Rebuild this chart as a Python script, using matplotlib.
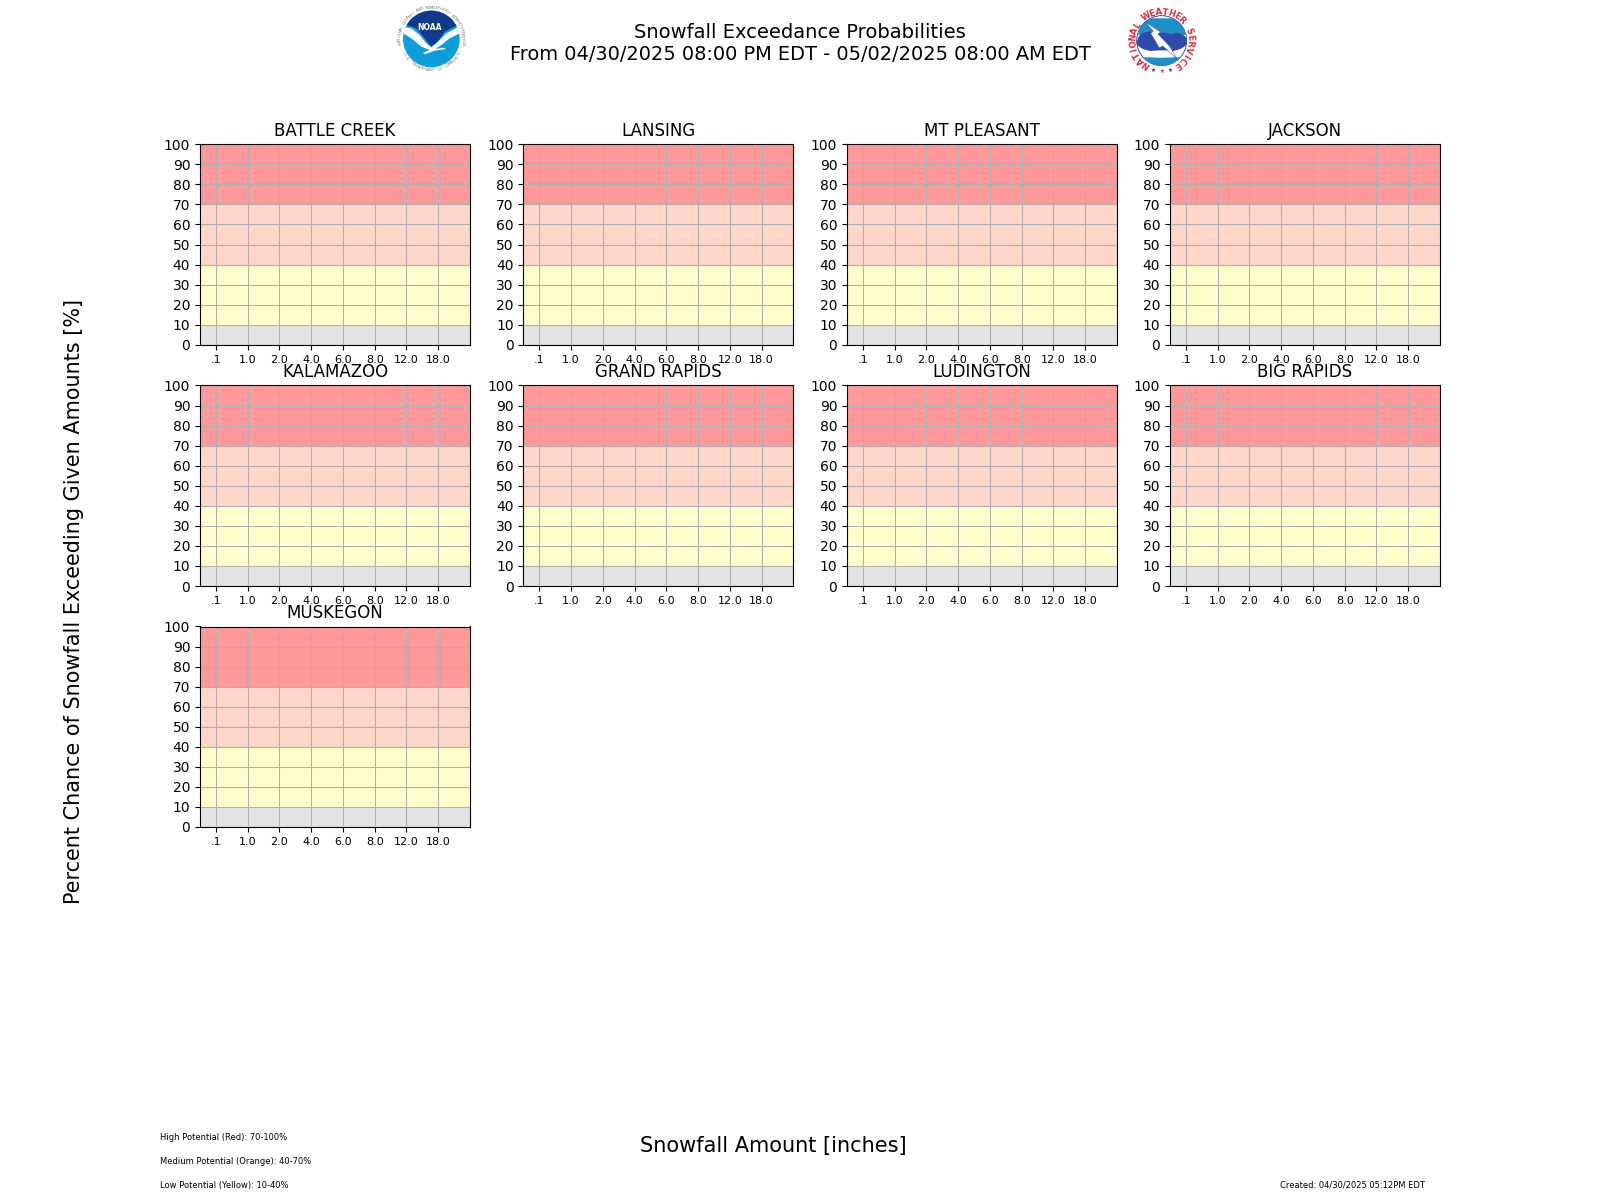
import numpy as np
import matplotlib
matplotlib.use("Agg")
import matplotlib.pyplot as plt
from matplotlib.patches import Circle, Ellipse, Polygon

stations = ["BATTLE CREEK", "LANSING", "MT PLEASANT", "JACKSON",
            "KALAMAZOO", "GRAND RAPIDS", "LUDINGTON", "BIG RAPIDS",
            "MUSKEGON"]
amount_labels = [".1", "1.0", "2.0", "4.0", "6.0", "8.0", "12.0", "18.0"]
percent_ticks = [0, 10, 20, 30, 40, 50, 60, 70, 80, 90, 100]
band_edges = [0, 10, 40, 70, 100]
band_colors = ["#e3e3e3", "#ffffcc", "#ffd6c9", "#ff9999"]
potential_notes = ["High Potential (Red): 70-100%",
                   "Medium Potential (Orange): 40-70%",
                   "Low Potential (Yellow): 10-40%"]

W, H = 1600, 1200
col_left = [200, 523.4, 847, 1170]
row_top = [144.3, 385.5, 626.5]
ax_w, ax_h = 270, 200.5


def px_axes(fig, left, top, width, height):
    return fig.add_axes([left / W, 1 - (top + height) / H, width / W, height / H])


def logo_axes(fig, left):
    # drawn in 3x pixel units, y pointing down
    ax = px_axes(fig, left, 0, 90, 85)
    ax.set_xlim(0, 270)
    ax.set_ylim(255, 0)
    ax.axis("off")
    return ax


def ring_text(ax, text, cx, cy, r, start, stop, tops_out=True, **kw):
    angles = np.linspace(start, stop, len(text))
    for ch, ang in zip(text, angles):
        if ch == " ":
            continue
        rad = np.deg2rad(ang)
        ax.text(cx + r * np.cos(rad), cy - r * np.sin(rad), ch, ha="center", va="center",
                rotation=ang - 90 if tops_out else ang + 90, **kw)


def draw_noaa(fig):
    ax = logo_axes(fig, 388)
    cx, cy = 130, 117
    disc = Circle((cx, cy), 85, fc="#0d9ddb", ec="none")
    ax.add_patch(disc)
    dark = Polygon([(40, 20), (220, 20), (220, 70), (170, 95), (150, 125), (130, 140),
                    (110, 115), (85, 85), (40, 70)], fc="#123a8c", ec="none")
    ax.add_patch(dark)
    dark.set_clip_path(disc)
    swoosh = Polygon([(40, 80), (70, 85), (95, 105), (115, 130), (130, 142), (150, 125),
                      (175, 100), (220, 76), (215, 100), (185, 115), (160, 135), (142, 147),
                      (165, 143), (175, 147), (140, 152), (110, 163), (105, 158), (125, 150),
                      (100, 140), (70, 115), (45, 100)], fc="white", ec="none")
    ax.add_patch(swoosh)
    swoosh.set_clip_path(disc)
    ax.text(125, 83, "NOAA", color="white", fontsize=5.5, fontweight="bold", ha="center", va="center")
    ring_text(ax, "NATIONAL OCEANIC AND ATMOSPHERIC ADMINISTRATION", cx, cy, 94, 188, -8,
              color="#777777", fontsize=2.8)
    ring_text(ax, "U.S. DEPARTMENT OF COMMERCE", cx, cy, 94, 208, 332, tops_out=False,
              color="#777777", fontsize=2.8)


def draw_nws(fig):
    ax = logo_axes(fig, 1120)
    cx, cy = 125, 122
    disc = Circle((cx, cy), 75, fc="white", ec="#1c3f94", lw=0.6)
    ax.add_patch(disc)
    parts = [Polygon([(60, 55), (190, 55), (200, 105), (55, 105)], fc="#1e8fc4", ec="none"),
             Polygon([(60, 172), (190, 172), (170, 200), (80, 200)], fc="#1e8fc4", ec="none"),
             Ellipse((125, 128), 150, 56, fc="#2f4aa8", ec="none"),
             Ellipse((88, 120), 70, 50, fc="#2f4aa8", ec="none"),
             Ellipse((170, 122), 60, 45, fc="#2f4aa8", ec="none"),
             Ellipse((125, 118), 60, 40, fc="#2f4aa8", ec="none"),
             Ellipse((125, 162), 110, 22, fc="white", ec="none"),
             Polygon([(76, 66), (122, 96), (114, 102), (150, 140), (170, 175), (128, 138),
                      (118, 144), (92, 100), (100, 94)], fc="white", ec="#1c3f94", lw=0.3)]
    for part in parts:
        ax.add_patch(part)
        part.set_clip_path(disc)
    ring_text(ax, "NATIONAL WEATHER SERVICE", cx, cy, 85, 236, -56,
              color="#e0283c", fontsize=6, fontweight="bold")
    for x, y, color in [(100, 212, "#1c3f94"), (125, 215, "#e0283c"), (150, 212, "#1c3f94")]:
        ax.text(x, y, "★", color=color, fontsize=4, ha="center", va="center")


fig = plt.figure(figsize=(16, 12), dpi=100)

for i, name in enumerate(stations):
    ax = px_axes(fig, col_left[i % 4], row_top[i // 4], ax_w, ax_h)
    for k, color in enumerate(band_colors):
        ax.axhspan(band_edges[k], band_edges[k + 1], color=color, lw=0, zorder=0)
    ax.set_xlim(-0.5, 8)
    ax.set_ylim(0, 100)
    ax.set_yticks(percent_ticks)
    ax.set_xticks(range(len(amount_labels)))
    ax.set_xticklabels(amount_labels, fontsize=8)
    ax.tick_params(axis="y", labelsize=10)
    ax.grid(True)
    ax.set_title(name, fontsize=12, pad=6)

fig.text(800 / W, 1 - 33 / H, "Snowfall Exceedance Probabilities", fontsize=14, ha="center", va="center")
fig.text(800 / W, 1 - 55 / H, "From 04/30/2025 08:00 PM EDT - 05/02/2025 08:00 AM EDT",
         fontsize=13.95, ha="center", va="center")
fig.text(74 / W, 1 - 602 / H, "Percent Chance of Snowfall Exceeding Given Amounts [%]",
         fontsize=14.95, rotation=90, ha="center", va="center")
fig.text(773 / W, 1 - 1146 / H, "Snowfall Amount [inches]", fontsize=15, ha="center", va="center")

for note, y in zip(potential_notes, [1137.5, 1161.5, 1185.5]):
    fig.text(160 / W, 1 - y / H, note, fontsize=6, ha="left", va="center")
fig.text(1280 / W, 1 - 1185.5 / H, "Created: 04/30/2025 05:12PM EDT", fontsize=6, ha="left", va="center")

draw_noaa(fig)
draw_nws(fig)

fig.savefig("out.png", dpi=100)
